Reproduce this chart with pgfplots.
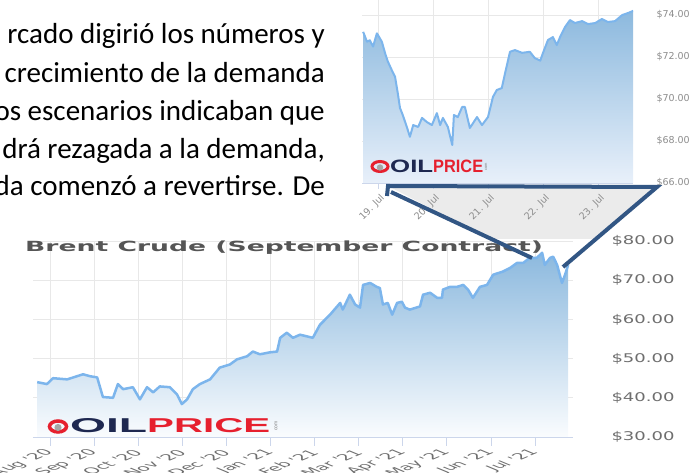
\documentclass[border=0pt]{standalone}
\usepackage{pgfplots}
\pgfplotsset{compat=1.18}
\usepackage{pgfplotstable}
\usepackage{graphicx}
\usepackage{fontspec}
\setmainfont{Carlito}
\newfontfamily\dejavu{DejaVu Sans}
\newfontfamily\libsans{Liberation Sans}
\definecolor{linec}{RGB}{124,181,236}
\definecolor{gridc}{RGB}{232,232,232}
\definecolor{axisc}{RGB}{204,214,235}
\definecolor{labc}{RGB}{110,110,110}
\definecolor{slabc}{RGB}{140,140,140}
\definecolor{fillTop}{RGB}{140,185,222}
\definecolor{fillBot}{RGB}{250,252,254}
\definecolor{sfillBot}{RGB}{232,240,250}
\definecolor{zoomc}{RGB}{50,86,132}
\definecolor{zoomfill}{RGB}{235,235,235}
\definecolor{navy}{RGB}{30,40,80}
\definecolor{logored}{RGB}{230,32,46}
\definecolor{titlec}{RGB}{85,85,85}

\pgfplotstableread{
m p
-0.29 44.0
-0.07 43.5
0.07 45.0
0.39 44.7
0.75 46.0
0.91 45.5
1.07 45.2
1.20 40.2
1.43 40.0
1.54 43.5
1.66 42.2
1.88 42.7
2.04 39.6
2.20 42.7
2.34 41.4
2.49 42.9
2.72 42.7
2.88 40.9
2.99 38.4
3.11 39.6
3.24 42.2
3.40 43.5
3.63 44.7
3.85 47.7
4.08 48.5
4.24 49.8
4.47 50.6
4.60 51.8
4.76 51.1
4.99 51.6
5.15 51.8
5.22 55.3
5.37 56.6
5.51 55.3
5.67 56.1
5.96 55.3
6.12 58.6
6.35 61.2
6.58 64.2
6.64 62.5
6.80 66.3
6.92 63.8
7.03 63.0
7.10 68.8
7.26 69.3
7.41 68.3
7.48 68.0
7.55 63.8
7.66 64.2
7.76 61.2
7.87 64.2
7.98 64.5
8.05 63.0
8.16 62.5
8.39 63.3
8.46 66.3
8.62 66.8
8.78 65.5
8.89 65.5
8.91 67.6
9.07 68.3
9.23 68.3
9.37 68.8
9.48 67.6
9.59 65.5
9.75 68.3
9.91 68.8
10.05 71.4
10.27 72.2
10.43 73.1
10.59 74.4
10.73 74.4
10.88 75.7
11.04 75.7
11.16 77.0
11.22 73.9
11.34 75.7
11.41 76.0
11.50 73.9
11.61 69.3
11.68 71.4
11.75 73.9
}\brent

\pgfplotstableread{
d p
18.73 73.20
18.80 72.73
18.85 72.80
18.91 72.50
18.98 73.13
19.07 72.73
19.13 72.17
19.18 71.78
19.25 71.38
19.31 71.06
19.36 70.27
19.40 69.57
19.45 69.24
19.53 68.62
19.58 68.20
19.64 68.76
19.73 68.67
19.80 69.10
19.89 68.90
19.98 68.76
20.07 69.33
20.13 68.76
20.18 69.10
20.27 68.67
20.35 67.81
20.38 69.24
20.45 69.14
20.53 69.62
20.58 69.62
20.67 68.62
20.80 69.14
20.89 68.76
21.00 69.14
21.09 70.10
21.16 70.43
21.25 70.52
21.31 71.23
21.40 72.25
21.49 72.33
21.62 72.20
21.76 72.25
21.85 71.95
21.95 71.83
22.00 72.20
22.09 72.81
22.18 72.95
22.25 72.57
22.31 72.95
22.40 73.43
22.49 73.76
22.58 73.62
22.71 73.71
22.82 73.57
22.95 73.62
23.07 73.81
23.18 73.67
23.31 73.71
23.44 74.00
23.55 74.10
23.64 74.20
}\july

\newcommand{\yl}[1]{\scalebox{1.5}[1]{\$#1}}

\begin{document}
\begin{tikzpicture}[x=1pt,y=1pt]
\useasboundingbox (0,0) rectangle (694,473);
\clip (0,0) rectangle (694,473);

% zoom callout fill
\fill[zoomfill] (388,287) -- (657,287) -- (594,234) -- (490,234) -- cycle;

% small chart (zoomed July)
\begin{axis}[
  at={(362pt,290pt)}, anchor=south west,
  scale only axis, width=271pt, height=190pt,
  xmin=18.709, xmax=23.636, ymin=66, ymax=75.05,
  axis x line=bottom, axis y line=right,
  x axis line style={draw=axisc,-},
  y axis line style={draw=none},
  xtick={19,20,21,22,23},
  xticklabels={19. Jul,20. Jul,21. Jul,22. Jul,23. Jul},
  ytick={66,68,70,72,74},
  yticklabels={\$66.00,\$68.00,\$70.00,\$72.00,\$74.00},
  grid=major, grid style={draw=gridc, line width=0.6pt},
  tick align=outside, major tick length=6pt,
  xtick style={draw=axisc},
  ytick style={draw=none},
  xticklabel style={font=\dejavu\fontsize{9.5}{9.5}\selectfont, text=slabc, rotate=45, anchor=east, inner sep=1pt, yshift=-9pt, xshift=-1pt},
  yticklabel style={font=\dejavu\fontsize{9.5}{9.5}\selectfont, text=slabc, anchor=west, xshift=14pt},
]
\addplot[draw=none, top color=fillTop, bottom color=sfillBot] table[x=d,y=p]{\july} -- (axis cs:23.64,66) -- (axis cs:18.73,66) -- cycle;
\addplot[linec, line width=2pt, line join=round] table[x=d,y=p]{\july};
\end{axis}

% small logo
\draw[logored, line width=3pt] (380,306.5) ellipse (8 and 5);
\fill[gray!70] (380,305.5) circle (3.2);
\node[anchor=base west, inner sep=0, text=navy] at (390,300) {\resizebox{43pt}{12.5pt}{\libsans\bfseries OIL}};
\node[anchor=base west, inner sep=0, text=logored] at (433,300) {\resizebox{50pt}{12.5pt}{\libsans\bfseries PRICE}};
\node[anchor=center, inner sep=0, text=gray, rotate=90] at (486,306) {\libsans\fontsize{4}{4}\selectfont com};

% big chart
\begin{axis}[
  at={(33pt,36pt)}, anchor=south west,
  scale only axis, width=540pt, height=196pt,
  xmin=-0.385, xmax=11.86, ymin=30, ymax=80,
  axis x line=bottom, axis y line=right,
  x axis line style={draw=axisc,-},
  y axis line style={draw=none},
  xtick={0,...,11},
  xticklabels={Aug '20,Sep '20,Oct '20,Nov '20,Dec '20,Jan '21,Feb '21,Mar '21,Apr '21,May '21,Jun '21,Jul '21},
  ytick={30,40,50,60,70,80},
  yticklabels={\yl{30.00},\yl{40.00},\yl{50.00},\yl{60.00},\yl{70.00},\yl{80.00}},
  grid=major, grid style={draw=gridc, line width=0.6pt},
  tick align=outside, major tick length=9pt,
  xtick style={draw=axisc, line width=0.8pt},
  ytick style={draw=none},
  xticklabel style={font=\dejavu\fontsize{8.5}{8.5}\selectfont, text=labc, yshift=-5pt, xshift=1pt, xscale=2.4, rotate=45, anchor=east, inner sep=0.5pt},
  yticklabel style={font=\dejavu\fontsize{12}{12}\selectfont, text=labc, anchor=west, xshift=26pt},
]
\addplot[draw=none, top color=fillTop, bottom color=fillBot] table[x=m,y=p]{\brent} -- (axis cs:11.75,30) -- (axis cs:-0.29,30) -- cycle;
\addplot[linec, line width=2.5pt, line join=round] table[x=m,y=p]{\brent};
\end{axis}

% big logo
\draw[logored, line width=3.5pt] (58,46.5) ellipse (8.5 and 5.5);
\fill[gray!70] (58,45.5) circle (3.6);
\node[anchor=base west, inner sep=0, text=navy] at (70,40) {\resizebox{77pt}{14pt}{\libsans\bfseries OIL}};
\node[anchor=base west, inner sep=0, text=logored] at (147,40) {\resizebox{123pt}{14pt}{\libsans\bfseries PRICE}};
\node[anchor=center, inner sep=0, text=gray, rotate=90] at (276,47) {\libsans\fontsize{5}{5}\selectfont com};

% big title
\node[anchor=base west, inner sep=0, text=titlec] at (25,221) {\dejavu\bfseries\fontsize{14}{14}\selectfont\scalebox{1.9}[1]{Brent Crude (September Contract)}};

% zoom callout lines
\draw[zoomc, line width=4pt, line join=miter] (387,277) -- (388,287) -- (657,286) -- (563,206);
\draw[zoomc, line width=4pt] (391,281) -- (532,215);

% paragraph text
\begin{scope}[every node/.style={anchor=base east, inner sep=0, font=\fontsize{29}{30}\selectfont}]
\node at (325,429) {rcado digirió los números y};
\node at (325,390) {crecimiento de la demanda};
\node at (325,352) {os escenarios indicaban que};
\node at (325,314) {drá rezagada a la demanda,};
\node at (325,277) {da comenzó a revertirse. De};
\end{scope}
\end{tikzpicture}
\end{document}
